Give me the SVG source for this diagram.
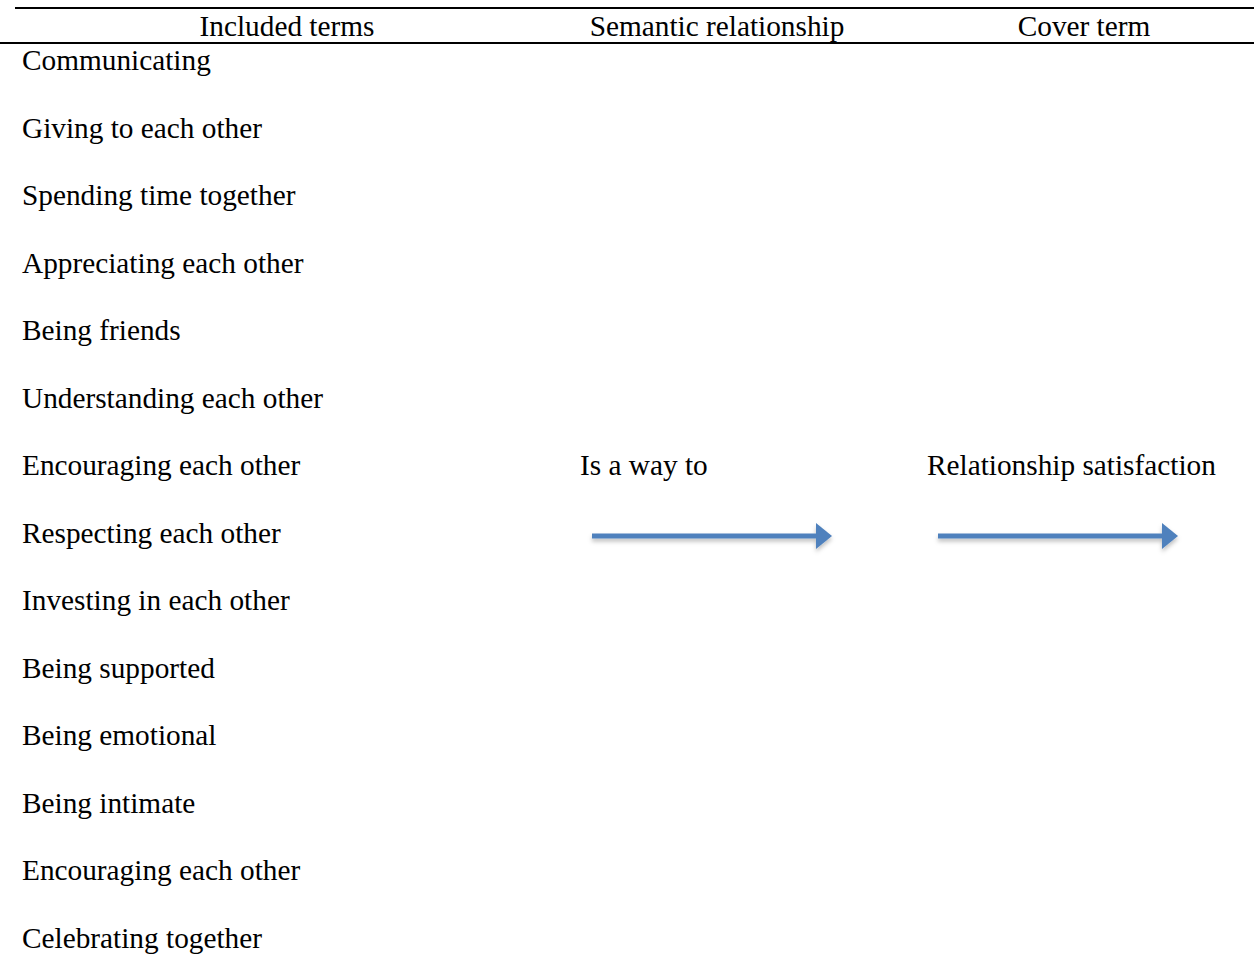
<svg xmlns="http://www.w3.org/2000/svg" width="1254" height="954" viewBox="0 0 1254 954">
<style>
text{font-family:"Liberation Serif","Times New Roman",serif;font-size:29.3px;fill:#000}
.h{text-anchor:middle}
.rule{stroke:#000;stroke-width:2.2}
.arr{stroke:#4F81BD;stroke-width:5;fill:none}
.head{fill:#4F81BD}
</style>
<defs>
<filter id="sh" x="-5%" y="-50%" width="110%" height="250%">
<feDropShadow dx="0" dy="3" stdDeviation="2" flood-color="#000" flood-opacity="0.25"/>
</filter>
</defs>
<g id="header">
<line class="rule" x1="15" y1="8" x2="1254" y2="8"/>
<line class="rule" x1="0" y1="43" x2="1254" y2="43"/>
<text class="h" x="287" y="36">Included terms</text>
<text class="h" x="717" y="36">Semantic relationship</text>
<text class="h" x="1084" y="36">Cover term</text>
</g>
<g id="included-terms">
<text x="22" y="70">Communicating</text>
<text x="22" y="138">Giving to each other</text>
<text x="22" y="205">Spending time together</text>
<text x="22" y="273">Appreciating each other</text>
<text x="22" y="340">Being friends</text>
<text x="22" y="408">Understanding each other</text>
<text x="22" y="475">Encouraging each other</text>
<text x="22" y="543">Respecting each other</text>
<text x="22" y="610">Investing in each other</text>
<text x="22" y="678">Being supported</text>
<text x="22" y="745">Being emotional</text>
<text x="22" y="813">Being intimate</text>
<text x="22" y="880">Encouraging each other</text>
<text x="22" y="948">Celebrating together</text>
</g>
<g id="relationship">
<text x="580" y="475">Is a way to</text>
</g>
<g id="cover-term">
<text x="927" y="475">Relationship satisfaction</text>
</g>
<g id="connectors" filter="url(#sh)">
<line class="arr" x1="592" y1="536" x2="818" y2="536"/>
<polygon class="head" points="816,523 832,536 816,549"/>
<line class="arr" x1="938" y1="536" x2="1164" y2="536"/>
<polygon class="head" points="1162,523 1178,536 1162,549"/>
</g>
</svg>
